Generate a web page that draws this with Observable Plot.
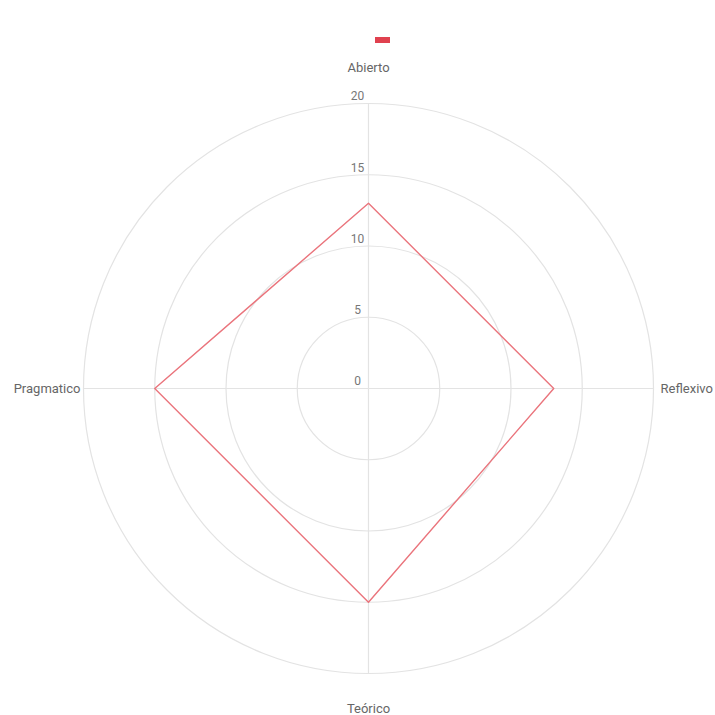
<!DOCTYPE html>
<html>
<head>
<meta charset="utf-8">
<script src="https://cdn.jsdelivr.net/npm/d3@7"></script>
<script src="https://cdn.jsdelivr.net/npm/@observablehq/plot@0.6"></script>
<style>
  body { margin: 0; background: #fff; }
  #wrap { position: relative; width: 715px; height: 715px; }
  #legend { position: absolute; left: 375px; top: 37px; width: 15px; height: 6px; background: #e0414f; }
  svg { font-family: Roboto, "Liberation Sans", sans-serif; }
</style>
</head>
<body>
<div id="wrap"><div id="legend"></div></div>
<script>
const categories = ["Abierto", "Reflexivo", "Teórico", "Pragmatico"];
const values = [13, 13, 15, 15];
const ticks = [0, 5, 10, 15, 20];
const maxValue = 20;

const angle = i => (i / categories.length) * 2 * Math.PI;
const pts = categories.map((c, i) => ({
  c, v: values[i],
  x: values[i] * Math.sin(angle(i)),
  y: values[i] * Math.cos(angle(i))
}));
const spokes = categories.map((c, i) => ({
  c, x: maxValue * Math.sin(angle(i)), y: maxValue * Math.cos(angle(i)),
  s: Math.sin(angle(i)), k: Math.cos(angle(i))
}));
const rings = ticks.filter(t => t > 0);

const cx = 368, cy = 388, R = 285;

const chart = Plot.plot({
  width: 715,
  height: 715,
  margin: 0,
  x: { domain: [-maxValue, maxValue], range: [cx - R, cx + R], axis: null },
  y: { domain: [-maxValue, maxValue], range: [cy + R, cy - R], axis: null },
  r: { type: "linear", domain: [0, maxValue], range: [0, R] },
  marks: [
    Plot.dot(rings, { x: () => 0, y: () => 0, r: d => d, stroke: "#e3e3e3", strokeWidth: 1.2, fill: "none" }),
    Plot.link(spokes, { x1: () => 0, y1: () => 0, x2: "x", y2: "y", stroke: "#e3e3e3", strokeWidth: 1.2 }),
    Plot.line(pts, { x: "x", y: "y", curve: "linear-closed", stroke: "#ea747c", strokeWidth: 1.4 }),
    Plot.text(ticks, { x: () => 0, y: d => d, text: d => String(d), dx: -11, dy: -7, fontSize: 12, fill: "#777" }),
    Plot.text(spokes.filter(d => d.k > 0.5), { x: "x", y: "y", text: "c", dy: -36, fontSize: 13, fill: "#666" }),
    Plot.text(spokes.filter(d => d.k < -0.5), { x: "x", y: "y", text: "c", dy: 35, fontSize: 13, fill: "#666" }),
    Plot.text(spokes.filter(d => d.s > 0.5), { x: "x", y: "y", text: "c", dx: 7, textAnchor: "start", fontSize: 13, fill: "#666" }),
    Plot.text(spokes.filter(d => d.s < -0.5), { x: "x", y: "y", text: "c", dx: -3, textAnchor: "end", fontSize: 13, fill: "#666" })
  ]
});
document.getElementById("wrap").prepend(chart);
</script>
</body>
</html>
